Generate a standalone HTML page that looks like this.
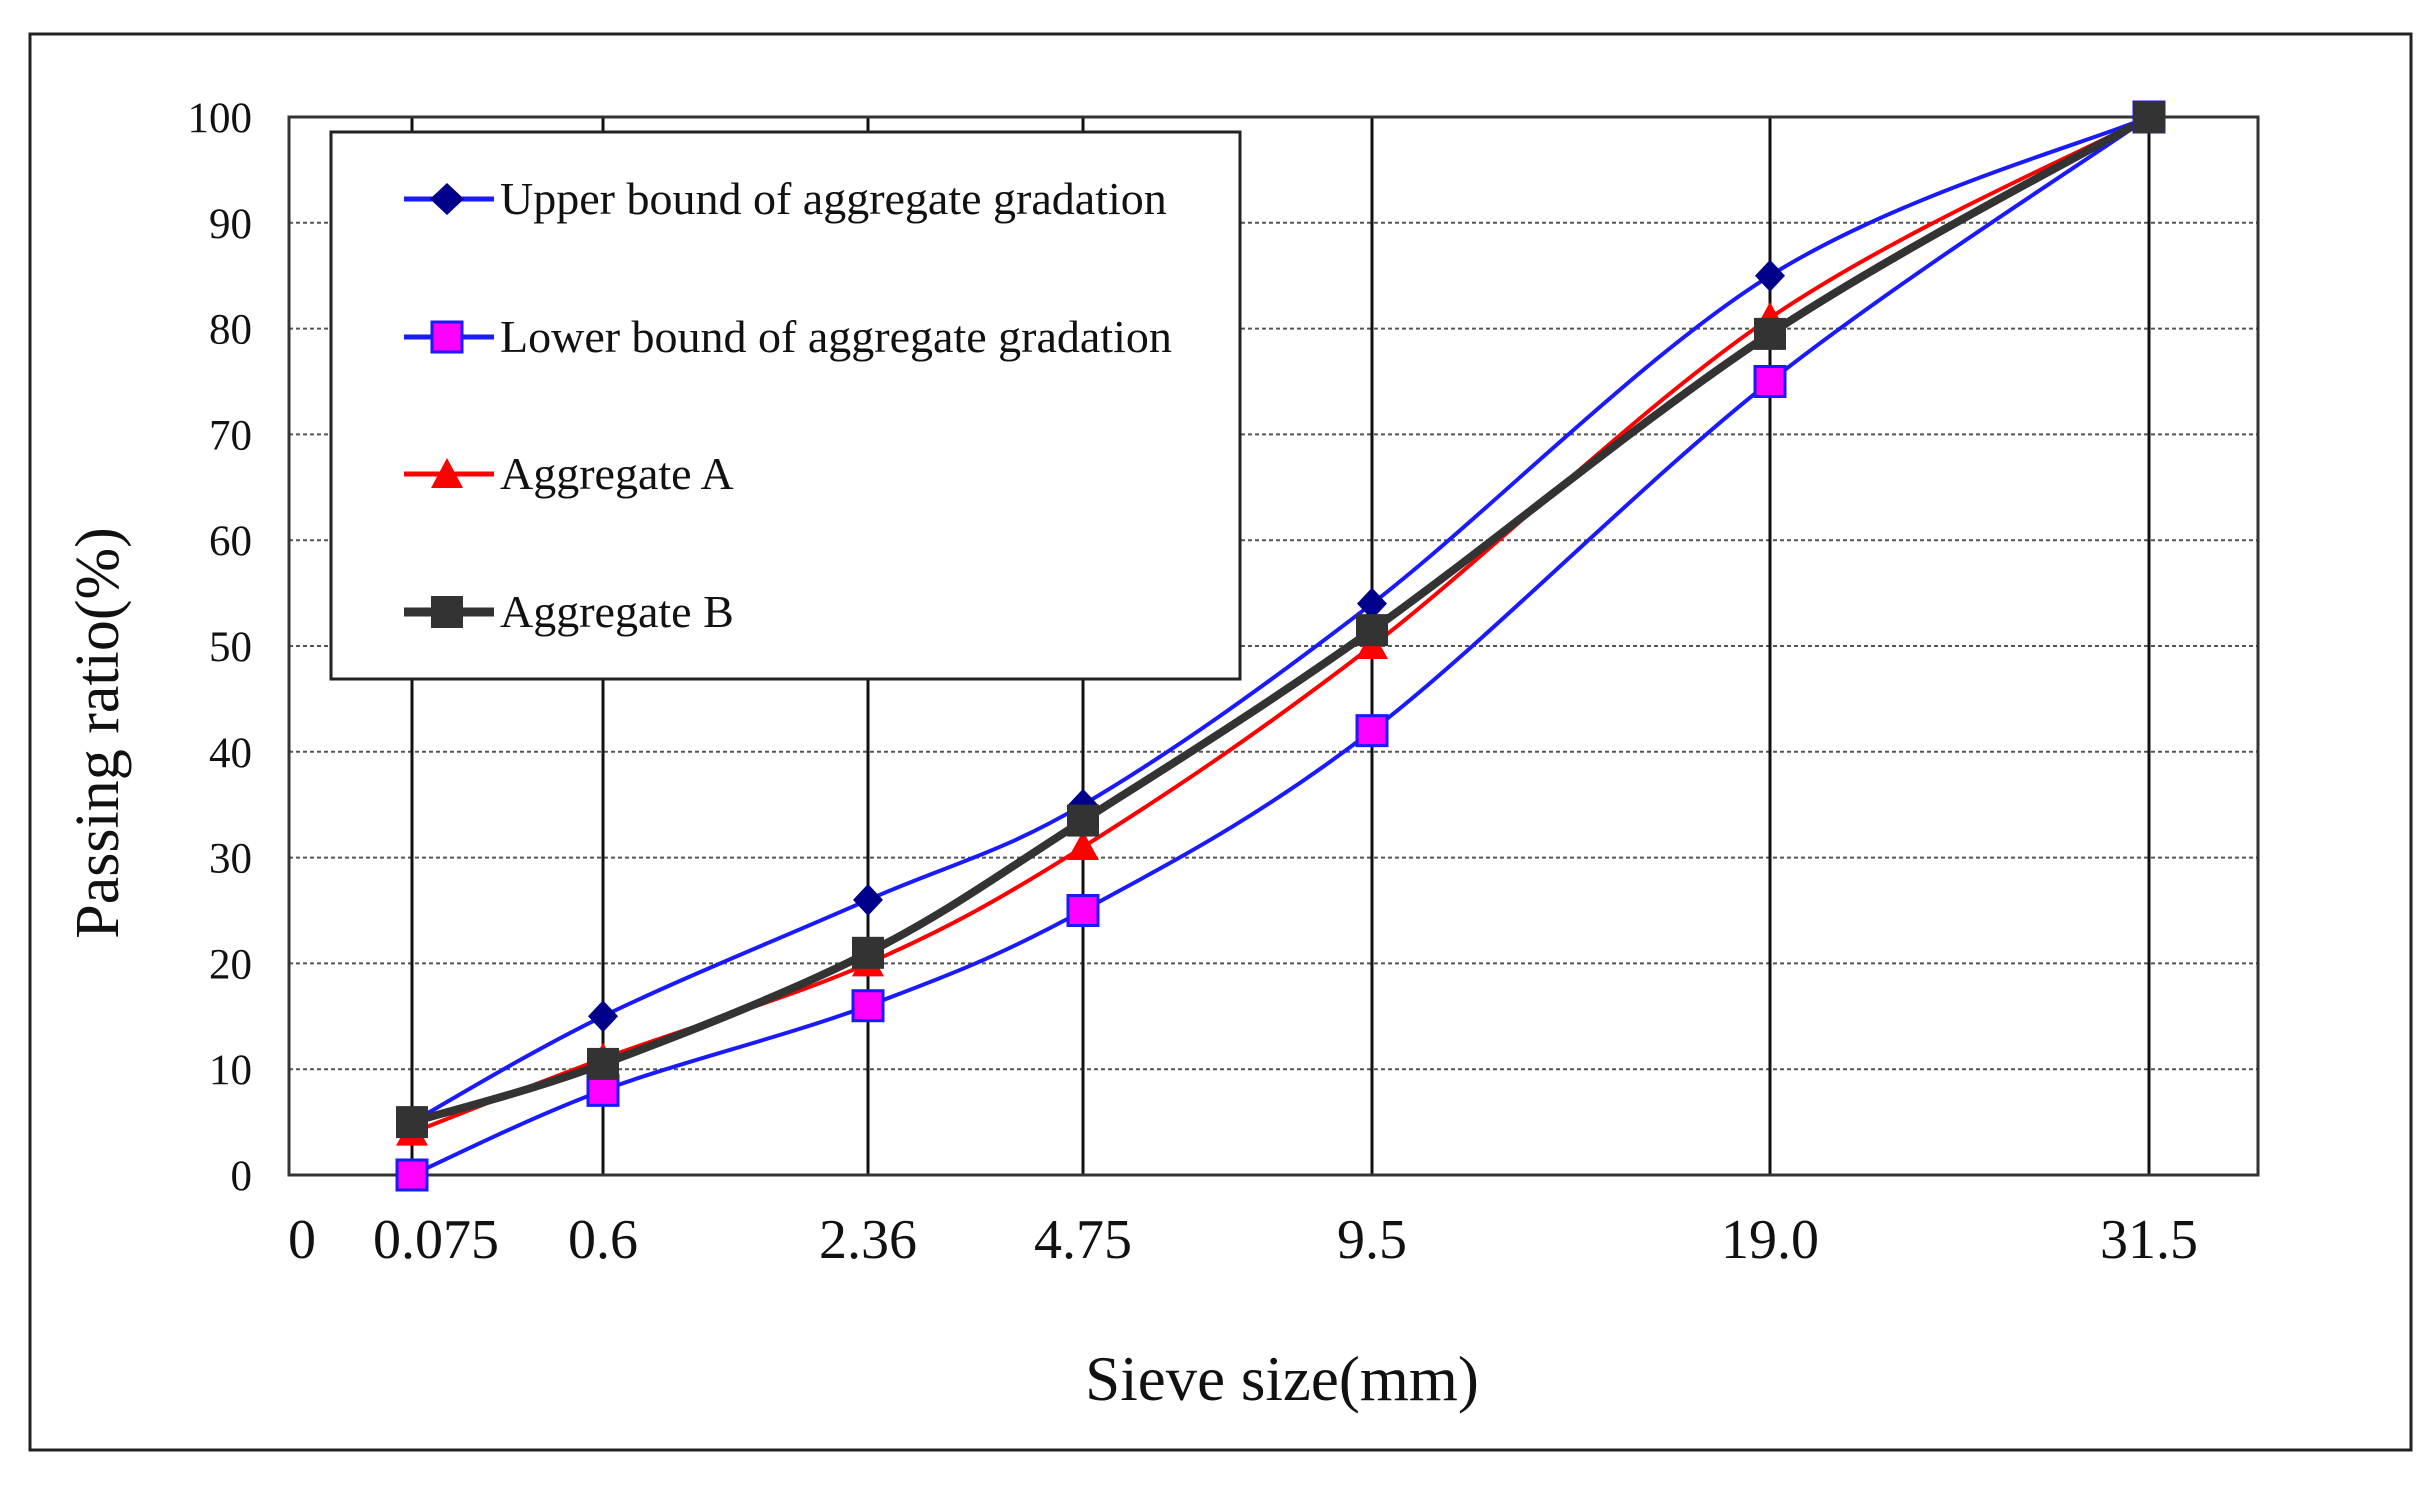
<!DOCTYPE html>
<html><head><meta charset="utf-8"><style>
html,body{margin:0;padding:0;background:#fff;}
svg{display:block;}
text{font-family:"Liberation Serif",serif;fill:#111;}
</style></head><body>
<svg id="s" width="2436" height="1489" viewBox="0 0 2436 1489" xmlns="http://www.w3.org/2000/svg">
<rect x="0" y="0" width="2436" height="1489" fill="#fff"/>
<rect x="30" y="34" width="2381" height="1416" fill="none" stroke="#222" stroke-width="3"/>
<g id="grid"></g>
<rect x="289" y="117" width="1969" height="1058" fill="none" stroke="#333" stroke-width="3"/>
<g id="legend">
<rect x="331" y="132" width="909" height="547" fill="#fff" stroke="#222" stroke-width="3"/>
<line x1="404" y1="199" x2="494" y2="199" stroke="#1a1aff" stroke-width="5"/>
<polygon points="447,183 464,199 447,215 430,199" fill="#00008b"/>
<text x="500" y="214" font-size="46">Upper bound of aggregate gradation</text>
<line x1="404" y1="337" x2="494" y2="337" stroke="#1a1aff" stroke-width="5"/>
<rect x="432" y="322" width="30" height="30" fill="#ff00ff" stroke="#1a1aff" stroke-width="3"/>
<text x="500" y="352" font-size="46">Lower bound of aggregate gradation</text>
<line x1="404" y1="474" x2="494" y2="474" stroke="#ff0000" stroke-width="5"/>
<polygon points="447,458 463,488 431,488" fill="#ff0000"/>
<text x="500" y="489" font-size="46">Aggregate A</text>
<line x1="404" y1="612" x2="494" y2="612" stroke="#333" stroke-width="9"/>
<rect x="431" y="596" width="32" height="32" fill="#333"/>
<text x="500" y="627" font-size="46">Aggregate B</text>
</g>
<g id="series"></g>
<g id="labels"></g>
<text x="1282" y="1400" font-size="63" text-anchor="middle">Sieve size(mm)</text>
<text transform="translate(118,733) rotate(-90)" font-size="62" text-anchor="middle">Passing ratio(%)</text>
</svg>
<script>
var NS="http://www.w3.org/2000/svg";
function el(p,t,a,txt){var e=document.createElementNS(NS,t);for(var k in a)e.setAttribute(k,a[k]);if(txt!=null)e.textContent=txt;document.getElementById(p).appendChild(e);return e;}
var xs=[412,603,868,1083,1372,1770,2149];
var xl=["0.075","0.6","2.36","4.75","9.5","19.0","31.5"];
function Y(v){return 1175-10.58*v;}
for(var i=1;i<10;i++)el("grid","line",{x1:289,x2:2258,y1:Y(i*10),y2:Y(i*10),stroke:"#555","stroke-width":2,"stroke-dasharray":"4,3"});
for(var i=0;i<xs.length;i++)el("grid","line",{x1:xs[i],x2:xs[i],y1:117,y2:1175,stroke:"#111","stroke-width":3});
for(var i=0;i<=10;i++)el("labels","text",{x:252,y:Y(i*10)+15,"font-size":43,"text-anchor":"end"},String(i*10));
el("labels","text",{x:302,y:1258,"font-size":56,"text-anchor":"middle"},"0");
for(var i=0;i<xs.length;i++)el("labels","text",{x:xs[i]+24*(i==0?1:0),y:1258,"font-size":56,"text-anchor":"middle"},xl[i]);
function path(v){var p=v.map(function(d,i){return [xs[i],Y(d)]});var s="M"+p[0][0]+","+p[0][1];
for(var i=0;i<p.length-1;i++){var p0=p[i-1]||p[i],p1=p[i],p2=p[i+1],p3=p[i+2]||p2;
var c1=[p1[0]+(p2[0]-p0[0])/6,p1[1]+(p2[1]-p0[1])/6],c2=[p2[0]-(p3[0]-p1[0])/6,p2[1]-(p3[1]-p1[1])/6];
s+=" C"+c1+" "+c2+" "+p2;}return s;}
var up=[5,15,26,35,54,85,100],lo=[0,8,16,25,42,75,100],A=[4,11,20,31,50,81,100],B=[5,10.5,21,33.5,51.5,79.5,100];
el("series","path",{d:path(up),fill:"none",stroke:"#1a1aff","stroke-width":4});
el("series","path",{d:path(lo),fill:"none",stroke:"#1a1aff","stroke-width":4});
el("series","path",{d:path(A),fill:"none",stroke:"#ff0000","stroke-width":4});
el("series","path",{d:path(B),fill:"none",stroke:"#333","stroke-width":8});
for(var i=0;i<7;i++){var x=xs[i];
var y=Y(lo[i]);el("series","rect",{x:x-15,y:y-15,width:30,height:30,fill:"#ff00ff",stroke:"#1a1aff","stroke-width":3});
y=Y(up[i]);el("series","polygon",{points:(x)+","+(y-16)+" "+(x+15)+","+y+" "+x+","+(y+16)+" "+(x-15)+","+y,fill:"#00008b"});
y=Y(A[i]);el("series","polygon",{points:x+","+(y-16)+" "+(x+16)+","+(y+13)+" "+(x-16)+","+(y+13),fill:"#ff0000"});
y=Y(B[i]);el("series","rect",{x:x-16,y:y-16,width:32,height:32,fill:"#333"});}
</script>
</body></html>
